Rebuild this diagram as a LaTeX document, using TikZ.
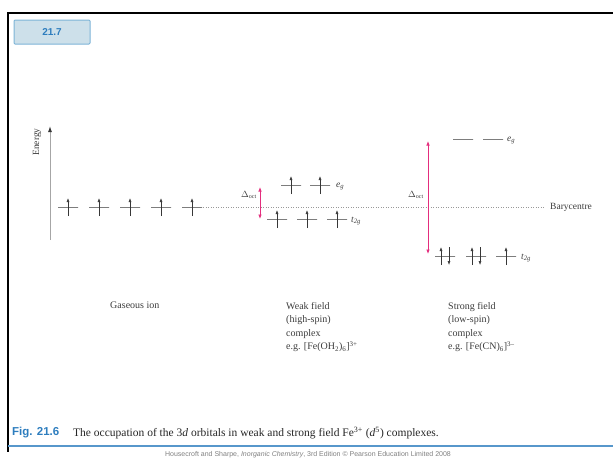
\documentclass[tikz,border=0pt]{standalone}
\usepackage{fontspec}
\setmainfont{Liberation Serif}
\setsansfont{Liberation Sans}
\usetikzlibrary{arrows.meta}
\definecolor{figblue}{RGB}{45,125,190}
\definecolor{boxfill}{RGB}{205,224,234}
\definecolor{boxline}{RGB}{125,180,215}
\definecolor{deltapink}{RGB}{228,45,125}
\definecolor{levelgray}{RGB}{55,55,55}
\definecolor{textgray}{RGB}{60,60,60}
\begin{document}
\begin{tikzpicture}[x=1pt, y=-1pt,
    level/.style={draw=levelgray, line width=0.7pt, minimum width=20pt, minimum height=0pt, inner sep=0pt},
    spin/.style={draw=levelgray, line width=0.55pt, -{Latex[length=4pt,width=3pt]}},
    delta/.style={draw=deltapink, line width=0.7pt, {Latex[length=4.5pt,width=3.5pt]}-{Latex[length=4.5pt,width=3.5pt]}},
    lbl/.style={font=\fontsize{10}{13.5}\selectfont, text=textgray, inner sep=0pt},
    orb/.style={font=\fontsize{9.5}{10}\selectfont\itshape, text=textgray, inner sep=0pt, anchor=west}]
    \useasboundingbox (0,0) rectangle (613,459);

    % frame and title box
    \draw[line width=2pt] (613,13) -- (8,13) -- (8,452);
    \draw[figblue!80, line width=1.5pt] (8,446) -- (613,446);
    \node[draw=boxline, fill=boxfill, line width=1pt, rounded corners=1pt, minimum width=76pt, minimum height=24pt,
          font=\sffamily\bfseries\fontsize{10}{12}\selectfont, text=figblue] (fignum) at (52,32) {21.7};

    % energy axis
    \coordinate (ax0) at (50,240);
    \coordinate (ax1) at (50,126);
    \draw[gray!70, line width=1pt, -{Latex[length=6pt,width=4pt,color=levelgray]}] (ax0) -- (ax1);
    \node[lbl, rotate=90, font=\fontsize{9.5}{10}\selectfont] (energy) at (37,142) {Energy};

    % barycentre
    \coordinate (bc0) at (203,207);
    \coordinate (bc1) at (544,207);
    \draw[gray!80, line width=0.5pt, dotted] (bc0) -- (bc1);
    \node[lbl, anchor=west, font=\fontsize{9.5}{10}\selectfont] (bary) at (550,207) {Barycentre};

    % Gaseous ion
    \foreach \i/\x in {1/68,2/99,3/130,4/161,5/192} {
        \node[level] (g\i) at (\x,207) {};
        \draw[spin] ([yshift=-9pt]g\i.center) -- ([yshift=9pt]g\i.center);
    }

    % Weak field (high-spin)
    \foreach \i/\x in {1/291,2/320} {
        \node[level] (we\i) at (\x,185) {};
        \draw[spin] ([yshift=-9pt]we\i.center) -- ([yshift=9pt]we\i.center);
    }
    \foreach \i/\x in {1/277,2/307,3/337} {
        \node[level] (wt\i) at (\x,219) {};
        \draw[spin] ([yshift=-9pt]wt\i.center) -- ([yshift=9pt]wt\i.center);
    }
    \node[orb] (weg) at (336,186) {e\textsubscript{g}};
    \node[orb] (wt2g) at (351,221) {t\textsubscript{2g}};
    \coordinate (wd0) at (260,219);
    \coordinate (wd1) at (260,187);
    \draw[delta] (wd0) -- (wd1);
    \node[lbl, font=\fontsize{9}{10}\selectfont] (wdelta) at (249,195) {$\Delta$\textsubscript{oct}};

    % Strong field (low-spin)
    \foreach \i/\x in {1/463,2/493} {
        \node[level] (se\i) at (\x,139) {};
    }
    \foreach \i/\x in {1/445,2/476} {
        \node[level] (st\i) at (\x,256) {};
        \draw[spin] ([xshift=-4pt,yshift=-9pt]st\i.center) -- ([xshift=-4pt,yshift=9pt]st\i.center);
        \draw[spin] ([xshift=4pt,yshift=9pt]st\i.center) -- ([xshift=4pt,yshift=-9pt]st\i.center);
    }
    \node[level] (st3) at (506,256) {};
    \draw[spin] ([yshift=-9pt]st3.center) -- ([yshift=9pt]st3.center);
    \node[orb] (seg) at (507,140) {e\textsubscript{g}};
    \node[orb] (st2g) at (521,258) {t\textsubscript{2g}};
    \coordinate (sd0) at (428,254);
    \coordinate (sd1) at (428,141);
    \draw[delta] (sd0) -- (sd1);
    \node[lbl, font=\fontsize{9}{10}\selectfont] (sdelta) at (416,195) {$\Delta$\textsubscript{oct}};

    % labels
    \node[lbl, anchor=north west] (gas) at (110,302) {Gaseous ion};
    \node[lbl, anchor=north west, align=left] (weak) at (286,302)
        {Weak field\\(high-spin)\\complex\\e.g. [Fe(OH\textsubscript{2})\textsubscript{6}]\textsuperscript{3+}};
    \node[lbl, anchor=north west, align=left] (strong) at (448,302)
        {Strong field\\(low-spin)\\complex\\e.g. [Fe(CN)\textsubscript{6}]\textsuperscript{3--}};

    % caption
    \node[anchor=west, inner sep=0pt, font=\sffamily\bfseries\fontsize{11.5}{12}\selectfont, text=figblue] (fig) at (12,433) {Fig. 21.6};
    \node[anchor=west, inner sep=0pt, font=\fontsize{11.5}{12}\selectfont, text=black!85] (cap) at (73,433)
        {The occupation of the 3\textit{d} orbitals in weak and strong field Fe\textsuperscript{3+} (\textit{d}\textsuperscript{5}) complexes.};
    \node[inner sep=0pt, font=\sffamily\fontsize{7}{8}\selectfont, text=gray] (credit) at (308,455)
        {Housecroft and Sharpe, \textit{Inorganic Chemistry}, 3rd Edition \textcopyright{} Pearson Education Limited 2008};
\end{tikzpicture}
\end{document}
